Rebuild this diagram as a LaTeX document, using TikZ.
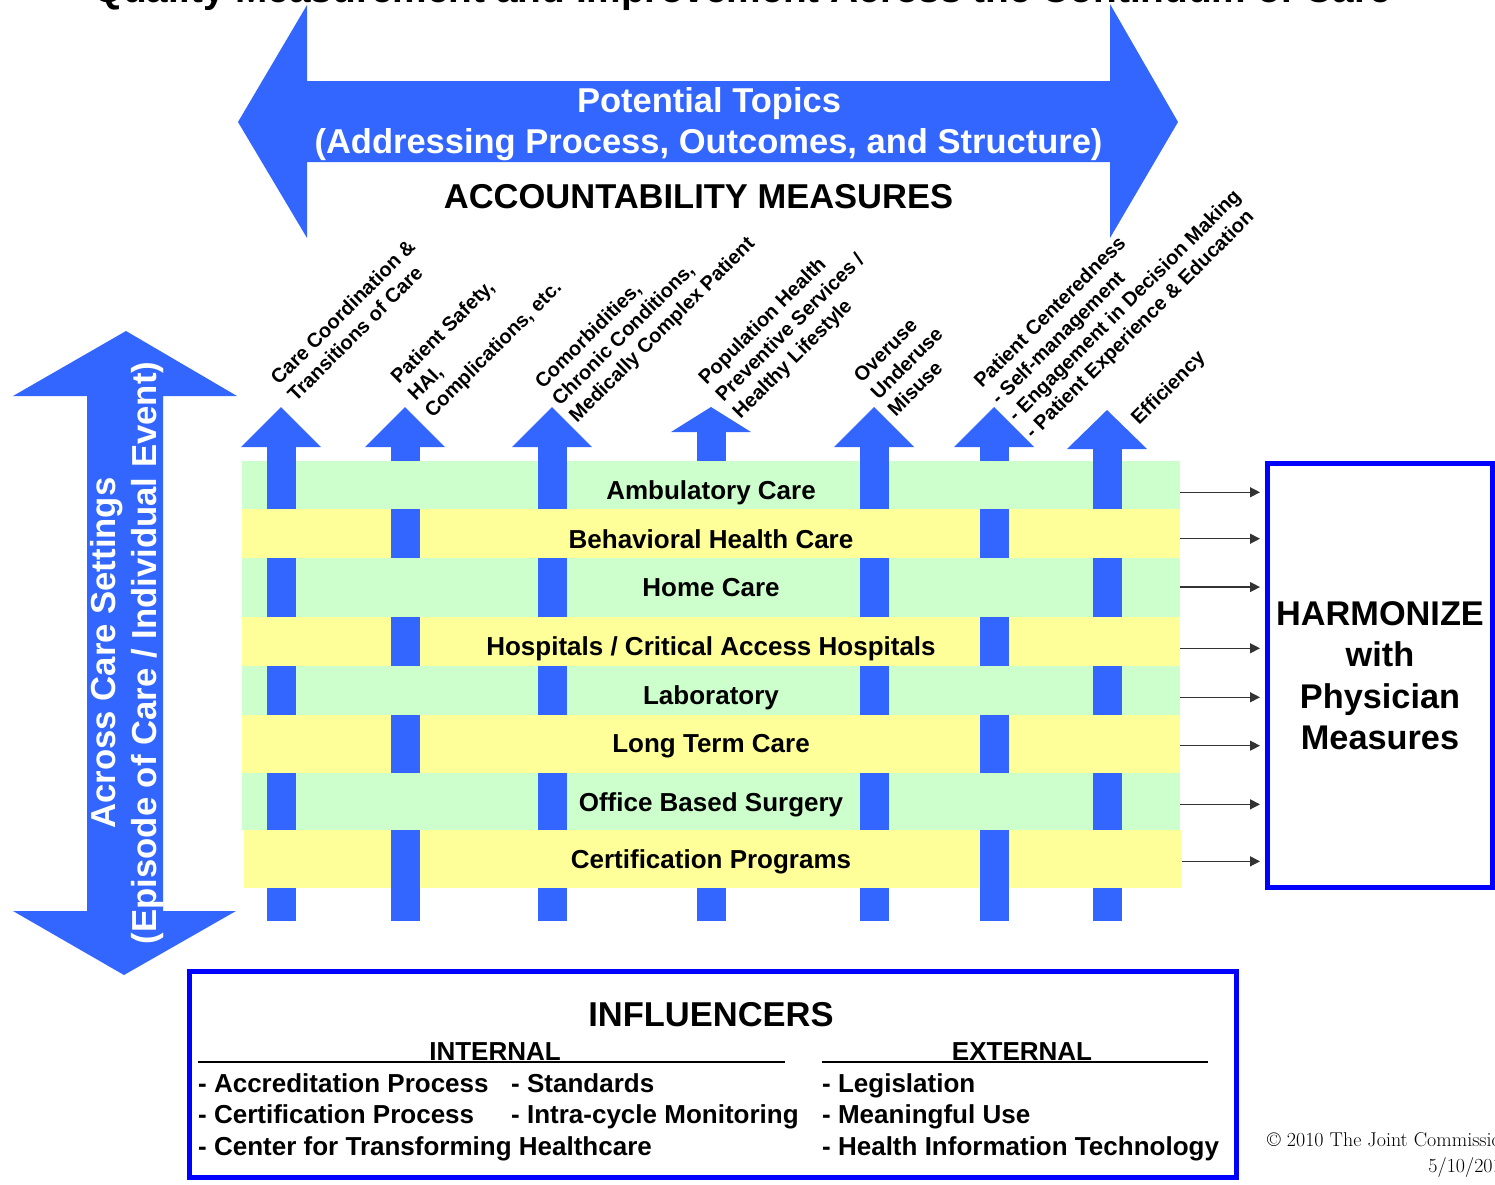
\documentclass[tikz,border=0pt]{standalone}
\usepackage{fontspec}
\setsansfont{Liberation Sans}
\usepackage{tikz}
\usetikzlibrary{arrows.meta,positioning}
\usepackage{xcolor}
\definecolor{bleuvif}{HTML}{3366FF}
\definecolor{bleupur}{HTML}{0000FF}
\definecolor{vertpale}{HTML}{CCFFCC}
\definecolor{jaunepale}{HTML}{FFFF99}

\begin{document}
\begin{tikzpicture}[x=1pt, y=-1pt,
    bande/.style={rectangle, inner sep=0pt, minimum width=938pt},
    cadre/.style={draw=bleupur, line width=5pt, inner sep=0pt},
    etiq/.style={anchor=base, font=\sffamily\bfseries\fontsize{26}{31}\selectfont},
    liste/.style={anchor=base west, inner sep=0pt, font=\sffamily\bfseries\fontsize{26}{31}\selectfont},
    theme/.style={anchor=north west, inner sep=0pt, align=left, rotate=45, font=\sffamily\bfseries\fontsize{20}{24}\selectfont},
    gros/.style={font=\sffamily\bfseries\fontsize{34.5}{41.5}\selectfont},
    fleche/.style={-{Triangle[length=10pt,width=10pt]}, line width=1.3pt, black!80}]
    \useasboundingbox (0,0) rectangle (1495,1184);

    % Titre (coupe par le bord)
    \node[anchor=base, font=\sffamily\bfseries\fontsize{38.8}{46}\selectfont] (titre) at (742,2) {Quality Measurement and Improvement Across the Continuum of Care};

    % Grande fleche horizontale
    \fill[bleuvif] (238,122) -- (307,5) -- (307,81) -- (1110,81) -- (1110,4) -- (1178,122) -- (1110,238) -- (1110,162) -- (307,162) -- (307,238) -- cycle;
    \node[gros, white, anchor=base] (topics) at (709,112) {Potential Topics};
    \node[gros, white, anchor=base] (topics2) at (708.5,153.5) {(Addressing Process, Outcomes, and Structure)};
    \node[gros, anchor=base] (acc) at (698.5,208) {ACCOUNTABILITY MEASURES};

    % Fleche verticale a gauche
    \fill[bleuvif] (126,331) -- (237,396) -- (163,396) -- (163,911) -- (236,911) -- (124,975) -- (13,911) -- (87,911) -- (87,396) -- (13,396) -- cycle;
    \node[white, rotate=90, align=center, font=\sffamily\bfseries\fontsize{34.7}{41}\selectfont] (across) at (127,653) {Across Care Settings\\(Episode of Care / Individual Event)};

    % Colonnes montantes (dessous des bandes)
    \foreach \cx/\hb/\hp in {281/447/407, 405/447/407, 552/447/407, 711/432/407, 874/447/407, 994/447/407, 1107/449/410} {
        \fill[bleuvif] (\cx-14.5,\hb) rectangle (\cx+14.5,921);
        \fill[bleuvif] (\cx-40,\hb) -- (\cx,\hp) -- (\cx+40,\hb) -- cycle;
    }

    % Bandes des milieux de soins
    \node[bande, fill=vertpale, minimum height=48pt] (amb) at (711,485) {};
    \node[bande, fill=jaunepale, minimum height=49pt] (behav) at (711,533.5) {};
    \node[bande, fill=vertpale, minimum height=59pt] (home) at (711,587.5) {};
    \node[bande, fill=jaunepale, minimum height=49pt] (hosp) at (711,641.5) {};
    \node[bande, fill=vertpale, minimum height=49pt] (lab) at (711,690.5) {};
    \node[bande, fill=jaunepale, minimum height=58pt] (ltc) at (711,744) {};
    \node[bande, fill=vertpale, minimum height=57pt] (obs) at (711,801.5) {};
    \node[bande, fill=jaunepale, minimum height=58pt] (cert) at (713,859) {};

    % Colonnes (dessus des bandes) : tissage
    \foreach \cx in {281,552,874,1107}
        \foreach \ya/\yb in {461/509,558/617,666/715,773/830}
            \fill[bleuvif] (\cx-14.5,\ya) rectangle (\cx+14.5,\yb);
    \foreach \cx in {405,994}
        \foreach \ya/\yb in {509/558,617/666,715/773,830/888}
            \fill[bleuvif] (\cx-14.5,\ya) rectangle (\cx+14.5,\yb);

    \node[etiq] (tamb) at (711,499) {Ambulatory Care};
    \node[etiq] (tbehav) at (711,548) {Behavioral Health Care};
    \node[etiq] (thome) at (711,596) {Home Care};
    \node[etiq] (thosp) at (711,655) {Hospitals / Critical Access Hospitals};
    \node[etiq] (tlab) at (711,704) {Laboratory};
    \node[etiq] (tltc) at (711,752) {Long Term Care};
    \node[etiq] (tobs) at (711,811) {Office Based Surgery};
    \node[etiq] (tcert) at (711,868) {Certification Programs};

    % Themes au-dessus des fleches
    \node[theme] (th1) at (268.4,375.4) {Care Coordination \&\\Transitions of Care};
    \node[theme] (th2) at (388.3,374.4) {Patient Safety,\\HAI,\\Complications, etc.};
    \node[theme] (th3) at (532.7,379.2) {Comorbidities,\\Chronic Conditions,\\Medically Complex Patient};
    \node[theme] (th4) at (696.2,375.4) {Population Health\\Preventive Services /\\Healthy Lifestyle};
    \node[theme] (th5) at (851.7,373.7) {Overuse\\Underuse\\Misuse};
    \node[theme] (th6) at (971.7,378.7) {Patient Centeredness\\- Self-management\\- Engagement in Decision Making\\- Patient Experience \& Education};
    \node[theme] (th7) at (1128.7,415.4) {Efficiency};

    % Harmonisation
    \node[cadre, minimum width=225pt, minimum height=424pt, align=center, font=\sffamily\bfseries\fontsize{34.3}{41.5}\selectfont] (harm) at (1380,675.5) {HARMONIZE\\with\\Physician\\Measures};
    \foreach \b in {amb,behav,home,hosp,lab,ltc,obs,cert}
        \draw[fleche] (\b.east |- t\b) -- ([xshift=-5pt]harm.west |- t\b);

    % Influenceurs
    \node[cadre, minimum width=1047pt, minimum height=206pt] (infl) at (713,1074.5) {};
    \node[gros, anchor=base] (tinfl) at (711,1026) {INFLUENCERS};
    \node[etiq] (intern) at (495,1060) {INTERNAL};
    \node[etiq] (extern) at (1022,1060) {EXTERNAL};
    \draw[line width=2pt] (198,1062) -- (785,1062);
    \draw[line width=2pt] (822,1062) -- (1208,1062);
    \node[liste] (i1) at (198,1092) {- Accreditation Process};
    \node[liste] (i2) at (511,1092) {- Standards};
    \node[liste] (i3) at (198,1123) {- Certification Process};
    \node[liste] (i4) at (511,1123) {- Intra-cycle Monitoring};
    \node[liste] (i5) at (198,1155) {- Center for Transforming Healthcare};
    \node[liste] (e1) at (822,1092) {- Legislation};
    \node[liste] (e2) at (822,1123) {- Meaningful Use};
    \node[liste] (e3) at (822,1155) {- Health Information Technology};

    % Mention en bas a droite
    \node[anchor=north west, align=right, inner sep=0pt, font=\fontsize{20}{26}\selectfont] (droits) at (1267,1132) {\textcopyright{} 2010 The Joint Commission\\5/10/2010};
\end{tikzpicture}
\end{document}
